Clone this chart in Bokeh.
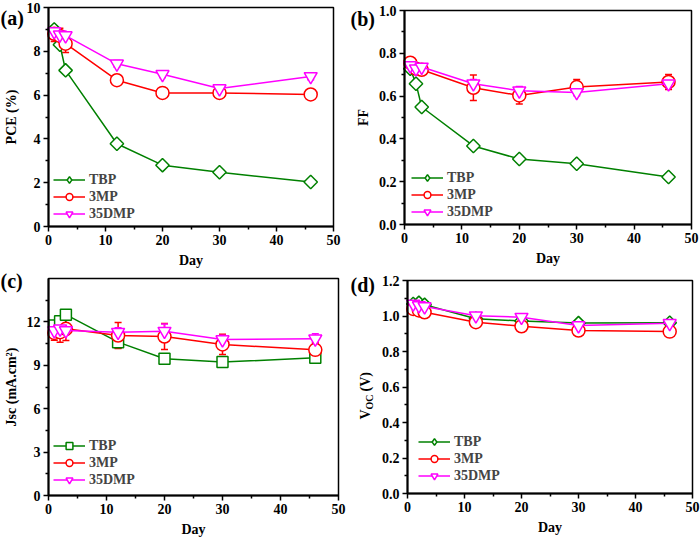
import numpy as np
from bokeh.plotting import figure
from bokeh.models import (ColumnDataSource, Whisker, TeeHead, FixedTicker, Label,
                          Legend, LegendItem, Range1d, BoxAnnotation)
from bokeh.layouts import column, row
from bokeh.embed import file_html
from bokeh.resources import INLINE

# ---------------- data ----------------
days = [1, 2, 3, 12, 20, 30, 46]
series_names = ["TBP", "3MP", "35DMP"]

pce_tbp = [9.0, 8.3, 7.13, 3.78, 2.80, 2.48, 2.03]
pce_3mp = [8.8, 8.7, 8.35, 6.68, 6.10, 6.10, 6.03]
pce_35dmp = [8.9, 8.75, 8.72, 7.43, 6.95, 6.30, 6.85]
pce_tbp_err = [0.12, 0.10, 0.10, 0.10, 0.10, 0.10, 0.10]
pce_3mp_err = [0.35, 0.35, 0.40, 0.10, 0.10, 0.10, 0.15]
pce_35dmp_err = [0.20, 0.15, 0.15, 0.15, 0.15, 0.15, 0.15]

ff_tbp = [0.728, 0.658, 0.549, 0.367, 0.306, 0.284, 0.222]
ff_3mp = [0.756, 0.728, 0.723, 0.639, 0.603, 0.642, 0.666]
ff_35dmp = [0.743, 0.728, 0.736, 0.658, 0.625, 0.617, 0.658]
ff_tbp_err = [0.015, 0.015, 0.015, 0.015, 0.015, 0.015, 0.015]
ff_3mp_err = [0.015, 0.015, 0.015, 0.060, 0.040, 0.035, 0.035]
ff_35dmp_err = [0.015, 0.015, 0.015, 0.020, 0.020, 0.015, 0.020]

jsc_tbp = [11.75, 12.05, 12.5, 10.6, 9.45, 9.22, 9.52]
jsc_3mp = [11.24, 11.29, 11.52, 11.06, 10.99, 10.44, 10.07]
jsc_35dmp = [11.4, 11.52, 11.4, 11.29, 11.36, 10.78, 10.83]
jsc_tbp_err = [0.2, 0.2, 0.2, 0.4, 0.15, 0.15, 0.15]
jsc_3mp_err = [0.5, 0.7, 0.8, 0.9, 0.9, 0.7, 0.5]
jsc_35dmp_err = [0.3, 0.3, 0.3, 0.3, 0.5, 0.3, 0.35]

voc_tbp = [1.068, 1.074, 1.063, 0.985, 0.972, 0.960, 0.962]
voc_3mp = [1.040, 1.031, 1.021, 0.965, 0.942, 0.918, 0.912]
voc_35dmp = [1.068, 1.059, 1.053, 1.002, 0.993, 0.946, 0.959]
voc_err = [0.01, 0.01, 0.01, 0.01, 0.01, 0.01, 0.01]

x_lim = (0, 50)
x_ticks = [0, 10, 20, 30, 40, 50]
x_minor = [5, 15, 25, 35, 45]

COLORS = ["#008000", "#FF0000", "#FF00FF"]
FONT = "Liberation Serif"
W, H = 350, 270


def make_panel(panel_label, ylabel, ylim, yticks, yminor, fmt, data, errs,
               first_marker, legend_marker, box, label_pos, legend_off):
    # box = pixel edges (left, top, right, bottom) of the axes area on the canvas
    bl, bt, br, bb = box
    x0, x1 = x_lim
    y0, y1 = ylim
    sx = (x1 - x0) / (br - bl)
    sy = (y1 - y0) / (bb - bt)
    p = figure(width=W, height=H, output_backend="svg", toolbar_location=None,
               x_range=Range1d(x0 - bl * sx, x1 + (W - br) * sx),
               y_range=Range1d(y0 - (H - bb) * sy, y1 + bt * sy),
               min_border=0, min_border_left=0, min_border_right=0,
               min_border_top=0, min_border_bottom=0)
    p.xgrid.visible = False
    p.ygrid.visible = False
    p.outline_line_color = None
    p.background_fill_color = "white"
    p.border_fill_color = "white"

    p.xaxis.ticker = FixedTicker(ticks=x_ticks, minor_ticks=x_minor)
    p.yaxis.ticker = FixedTicker(ticks=yticks, minor_ticks=yminor)
    p.yaxis.major_label_overrides = {t: fmt.format(t) for t in yticks}
    p.xaxis.fixed_location = y0
    p.yaxis.fixed_location = x0
    p.xaxis.bounds = (x0, x1)
    p.yaxis.bounds = (y0, y1)
    p.xaxis.axis_label = "Day"
    if ylabel:
        p.yaxis.axis_label = ylabel
    for ax in (p.xaxis[0], p.yaxis[0]):
        ax.axis_line_width = 2
        ax.major_tick_in = 0
        ax.major_tick_out = 5
        ax.minor_tick_in = 0
        ax.minor_tick_out = 3
        ax.major_tick_line_width = 1.5
        ax.minor_tick_line_width = 1.5
        ax.major_label_text_font = FONT
        ax.major_label_text_font_style = "bold"
        ax.major_label_text_font_size = "14px"
        ax.major_label_text_color = "black"
        ax.major_label_standoff = 3
        ax.axis_label_text_font = FONT
        ax.axis_label_text_font_style = "bold"
        ax.axis_label_text_font_size = "14px"
        ax.axis_label_text_color = "black"
        ax.axis_label_standoff = 5

    # frame box of the axes
    p.add_layout(BoxAnnotation(left=x0, right=x1, bottom=y0, top=y1,
                               fill_alpha=0, line_color="black", line_width=1.5,
                               line_alpha=1))

    markers = [first_marker, ("circle", 13, 0), ("inverted_triangle", 13, 0)]
    leg_markers = [legend_marker, ("circle", 13), ("inverted_triangle", 13)]
    items = []
    for name, ys, es, col, (mk, sz, ang), (lmk, lsz) in zip(
            series_names, data, errs, COLORS, markers, leg_markers):
        src = ColumnDataSource(dict(x=days, y=ys,
                                    upper=[a + b for a, b in zip(ys, es)],
                                    lower=[a - b for a, b in zip(ys, es)]))
        lr = p.line("x", "y", source=src, line_color=col, line_width=1.5)
        p.scatter("x", "y", source=src, marker=mk, size=sz, angle=ang,
                  line_color=col, line_width=1.5, fill_color="white")
        w = Whisker(source=src, base="x", upper="upper", lower="lower",
                    line_color=col, line_width=1.5,
                    upper_head=TeeHead(size=7, line_color=col, line_width=1.5),
                    lower_head=TeeHead(size=7, line_color=col, line_width=1.5))
        p.add_layout(w)
        # legend-only glyph (a single point far outside the visible range)
        ghost = ColumnDataSource(dict(x=[-1000.0], y=[-1000.0]))
        lg = p.scatter("x", "y", source=ghost, marker=lmk, size=lsz,
                       line_color=col, line_width=1.5, fill_color="white")
        items.append(LegendItem(label=name, renderers=[lr, lg]))

    lox, loy = legend_off
    leg = Legend(items=items, location=(bl + lox, (H - bb) + loy))
    leg.border_line_alpha = 0
    leg.background_fill_alpha = 0
    leg.label_text_font = FONT
    leg.label_text_font_style = "bold"
    leg.label_text_font_size = "14px"
    leg.glyph_width = 32
    leg.glyph_height = 17
    leg.label_height = 17
    leg.spacing = 0
    leg.padding = 2
    leg.margin = 0
    leg.label_standoff = 4
    p.add_layout(leg)

    # panel letter (frame == canvas here): x from left, y from bottom
    lx, ly = label_pos
    p.add_layout(Label(x=lx, y=H - ly, x_units="screen", y_units="screen",
                       text=panel_label, text_font=FONT, text_font_style="bold",
                       text_font_size="20px", text_align="left",
                       text_baseline="middle", text_color="black"))
    return p


pa = make_panel("(a)", "PCE (%)", (0, 10), [0, 2, 4, 6, 8, 10], [1, 3, 5, 7, 9],
                "{:.0f}", [pce_tbp, pce_3mp, pce_35dmp],
                [pce_tbp_err, pce_3mp_err, pce_35dmp_err],
                ("square", 9.5, np.pi / 4), ("diamond", 15),
                (48, 7, 333, 226), (0, 17), (3, 2))
pb = make_panel("(b)", "FF", (0, 1.0), [0, 0.2, 0.4, 0.6, 0.8, 1.0],
                [0.1, 0.3, 0.5, 0.7, 0.9], "{:.1f}", [ff_tbp, ff_3mp, ff_35dmp],
                [ff_tbp_err, ff_3mp_err, ff_35dmp_err],
                ("square", 9.5, np.pi / 4), ("diamond", 15),
                (54, 10, 341, 224), (0, 18), (5, 2))
pc = make_panel("(c)", "Jsc (mA.cm²)", (0, 15), [0, 3, 6, 9, 12],
                [1.5, 4.5, 7.5, 10.5, 13.5], "{:.0f}", [jsc_tbp, jsc_3mp, jsc_35dmp],
                [jsc_tbp_err, jsc_3mp_err, jsc_35dmp_err],
                ("square", 11, 0), ("square", 11),
                (48, 8, 338, 225), (0, 10), (3, 5))
pd_ = make_panel("(d)", None, (0, 1.2), [0, 0.2, 0.4, 0.6, 0.8, 1.0, 1.2],
                 [0.1, 0.3, 0.5, 0.7, 0.9, 1.1], "{:.1f}", [voc_tbp, voc_3mp, voc_35dmp],
                 [voc_err, voc_err, voc_err],
                 ("square", 9.5, np.pi / 4), ("diamond", 15),
                 (57, 10, 342, 223), (0, 14), (9, 7))

# V_OC (V) axis label built from rotated text pieces
yv = H - 149
common = dict(x_units="screen", y_units="screen", angle=np.pi / 2,
              text_font=FONT, text_font_style="bold", text_color="black",
              text_align="left", text_baseline="middle")
pd_.add_layout(Label(x=15, y=yv, text="V", text_font_size="14px", **common))
pd_.add_layout(Label(x=19, y=yv + 10, text="OC", text_font_size="10px", **common))
pd_.add_layout(Label(x=15, y=yv + 28, text="(V)", text_font_size="14px", **common))

layout = column(row(pa, pb), row(pc, pd_))
open("out.html", "w").write(file_html(layout, INLINE))
